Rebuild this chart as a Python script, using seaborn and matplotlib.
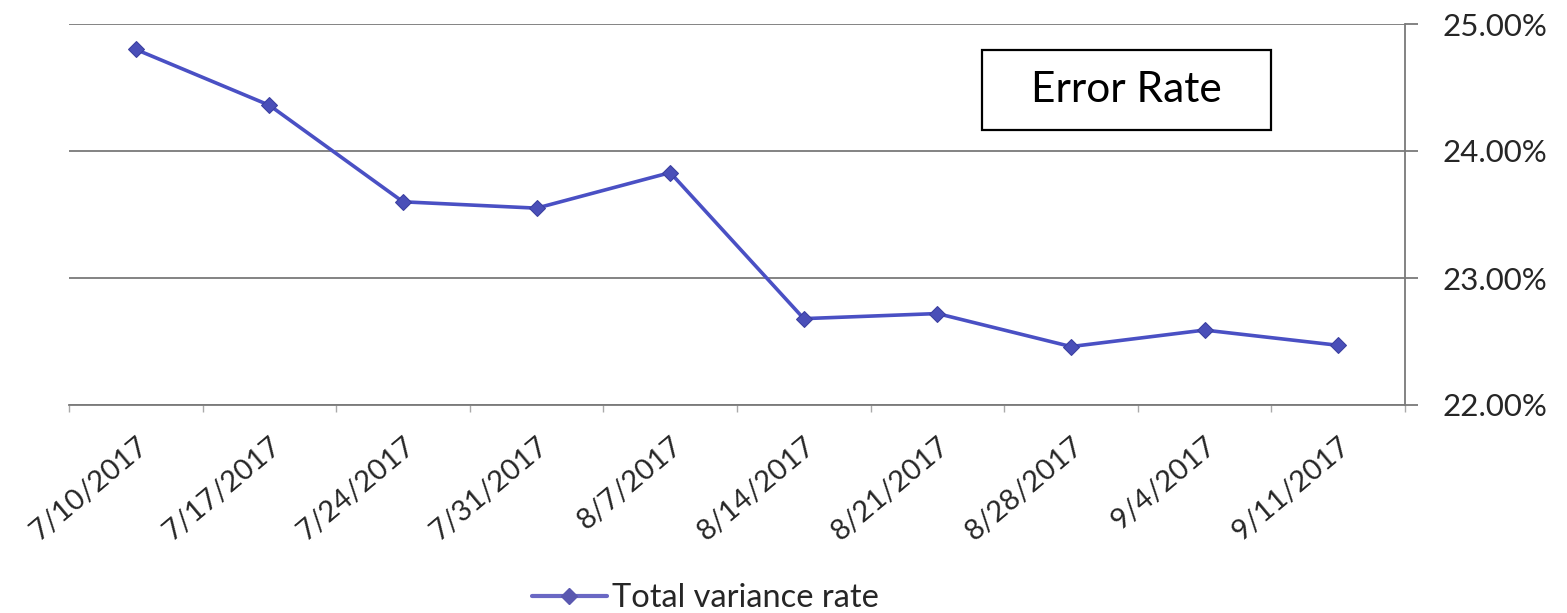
import matplotlib
matplotlib.use("Agg")
import matplotlib.pyplot as plt
from matplotlib.patches import Rectangle
from matplotlib.lines import Line2D
from matplotlib.ticker import FuncFormatter, FixedLocator
import seaborn as sns
import pandas as pd

weeks = ["7/10/2017", "7/17/2017", "7/24/2017", "7/31/2017", "8/7/2017",
         "8/14/2017", "8/21/2017", "8/28/2017", "9/4/2017", "9/11/2017"]
variance_rate = [24.80, 24.36, 23.60, 23.55, 23.83, 22.68, 22.72, 22.46, 22.59, 22.47]
y_ticks = [22, 23, 24, 25]
series_name = "Total variance rate"
chart_title = "Error Rate"

df = pd.DataFrame({"week": weeks, "rate": variance_rate})

sns.set_theme(style="white")
plt.rcParams["font.family"] = ["Lato", "DejaVu Sans"]

W, H = 1567, 613
fig = plt.figure(figsize=(W / 100, H / 100), dpi=100)
ax = fig.add_axes([69 / W, 1 - 405 / H, (1405 - 69) / W, (405 - 24) / H])

line_color = "#4a50c4"
sns.lineplot(data=df, x="week", y="rate", ax=ax, sort=False,
             color=line_color, linewidth=2.6, marker="D", markersize=8,
             markeredgecolor="#3b3fa0", markerfacecolor="#4a4fb8")

ax.set_xlim(-0.5, len(weeks) - 0.5)
ax.set_ylim(y_ticks[0], y_ticks[-1])
ax.set_xlabel("")
ax.set_ylabel("")

# horizontal gridlines and right-hand value axis
grid_color = "#7a7a7a"
ax.yaxis.tick_right()
ax.yaxis.set_major_locator(FixedLocator(y_ticks))
ax.yaxis.set_major_formatter(FuncFormatter(lambda v, _: f"{v:.2f}%"))
ax.grid(axis="y", color=grid_color, linewidth=1.3)
ax.tick_params(axis="y", which="major", right=True, left=False, length=9,
               width=1.3, color=grid_color, labelsize=22.5,
               labelcolor="#262626", pad=18)

for side in ("left", "top"):
    ax.spines[side].set_visible(False)
for side in ("right", "bottom"):
    ax.spines[side].set_color(grid_color)
    ax.spines[side].set_linewidth(1.3)

# category labels at centres, boundary ticks between them
ax.set_xticks(range(len(weeks)))
ax.set_xticklabels(weeks, rotation=40, ha="right", va="top",
                   rotation_mode="anchor")
ax.set_xticks([i - 0.5 for i in range(len(weeks) + 1)], minor=True)
ax.tick_params(axis="x", which="major", bottom=False, length=0, pad=20,
               labelsize=21, labelcolor="#262626")
ax.tick_params(axis="x", which="minor", bottom=True, length=5, width=1,
               color="#aaaaaa")
ax.set_axisbelow(True)

# boxed chart title
bx0, by0, bx1, by1 = 982, 50, 1271, 130
fig.patches.append(Rectangle((bx0 / W, 1 - by1 / H), (bx1 - bx0) / W,
                             (by1 - by0) / H, transform=fig.transFigure,
                             facecolor="white", edgecolor="black",
                             linewidth=1.6, zorder=5))
fig.text((bx0 + bx1) / 2 / W, 1 - (by0 + by1) / 2 / H, chart_title,
         ha="center", va="center", fontsize=30.5, color="black", zorder=6)

# legend under the axis
handle = Line2D([], [], color="#6a68c4", linewidth=3, marker="D",
                markersize=8, markerfacecolor="#5a58b0",
                markeredgecolor="#5a58b0")
fig.legend([handle], [series_name], loc="center", frameon=False,
           bbox_to_anchor=(705 / W, 1 - 598 / H), fontsize=23.5,
           handlelength=2.3, handletextpad=0.15, labelcolor="#262626",
           borderpad=0, borderaxespad=0)

fig.savefig("out.png", dpi=100, facecolor="white")
